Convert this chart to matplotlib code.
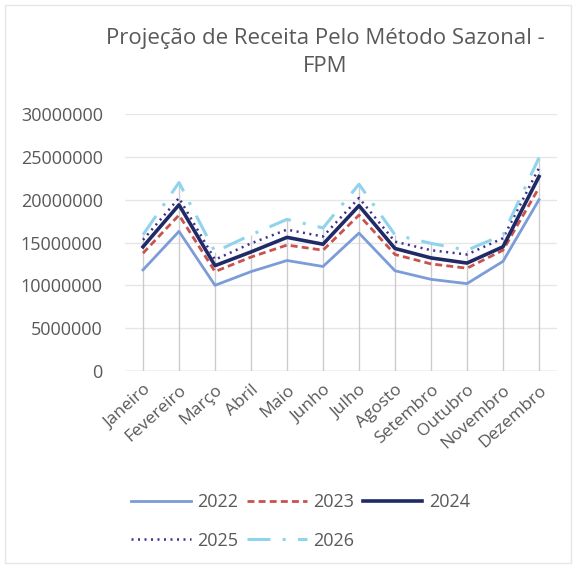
import matplotlib.pyplot as plt
from matplotlib.patches import Rectangle
import numpy as np

meses = ['Janeiro', 'Fevereiro', 'Março', 'Abril', 'Maio', 'Junho', 'Julho',
         'Agosto', 'Setembro', 'Outubro', 'Novembro', 'Dezembro']

# valores em milhoes
v2022 = [11.8, 16.3, 10.0, 11.6, 12.9, 12.2, 16.1, 11.7, 10.7, 10.2, 12.8, 20.0]
v2023 = [13.75, 18.2, 11.6, 13.3, 14.7, 14.1, 18.2, 13.6, 12.5, 12.0, 14.1, 21.4]
v2024 = [14.5, 19.4, 12.3, 13.9, 15.6, 14.8, 19.3, 14.3, 13.2, 12.6, 14.5, 22.7]
v2025 = [15.3, 20.2, 13.0, 14.9, 16.5, 15.7, 20.2, 15.1, 14.1, 13.6, 15.5, 23.7]
v2026 = [15.9, 22.0, 13.9, 15.9, 17.7, 16.7, 21.8, 15.9, 14.9, 14.1, 15.9, 24.9]

anos = ['2022', '2023', '2024', '2025', '2026']
series = [v2022, v2023, v2024, v2025, v2026]
yticks = [0, 5000000, 10000000, 15000000, 20000000, 25000000, 30000000]

plt.rcParams['font.family'] = ['Open Sans', 'DejaVu Sans']
cinza = '#595959'

W, H = 576, 567
fig = plt.figure(figsize=(W / 100, H / 100), dpi=100)
ax = fig.add_axes([125 / W, 1 - 371 / H, 432 / W, 257 / H])

# moldura clara do grafico
fig.patches.append(Rectangle((5 / W, 4 / H), 1 - 10 / W, 1 - 9 / H,
                             transform=fig.transFigure, fill=False,
                             ec='#e6e6e6', lw=1))

x = np.arange(len(meses))
dados = [np.array(s) * 1e6 for s in series]

# linhas de queda (do maior valor ate o eixo)
topo = np.max(dados, axis=0)
ax.vlines(x, 0, topo, color='#cccccc', lw=1, zorder=1)

estilos = [
    dict(color='#7b9cd8', lw=2.0, ls='-'),
    dict(color='#c8524e', lw=2.0, ls=(0, (2.5, 1.5))),
    dict(color='#1f2a66', lw=2.6, ls='-'),
    dict(color='#3d2f8f', lw=1.8, ls=(0, (0.8, 1.8))),
    dict(color='#8fd3ec', lw=2.2, ls=(0, (7.5, 4, 1, 4))),
]
linhas = []
for ano, d, st in zip(anos, dados, estilos):
    l, = ax.plot(x, d, label=ano, zorder=3, **st)
    linhas.append(l)

ax.set_ylim(0, 30000000)
ax.set_xlim(-0.5, 11.5)
ax.set_yticks(yticks)
ax.set_yticklabels([str(v) for v in yticks])
ax.set_xticks(x)
ax.set_xticklabels(meses, rotation=42, ha='right', rotation_mode='anchor')
ax.tick_params(axis='y', length=0, labelsize=13, colors=cinza, pad=16)
ax.tick_params(axis='x', length=0, labelsize=12.5, colors=cinza, pad=8)
ax.grid(axis='y', color='#e6e6e6', lw=1)
ax.set_axisbelow(True)
for s in ax.spines.values():
    s.set_visible(False)
ax.axhline(0, color='#d4d4d4', lw=1, zorder=2)

fig.text(0.565, 1 - 28 / H, 'Projeção de Receita Pelo Método Sazonal -\nFPM',
         ha='center', va='top', fontsize=16, color=cinza, linespacing=1.45)

# ordem para preencher por linhas: 2022 2023 2024 / 2025 2026
ordem = [0, 3, 1, 4, 2]
fig.legend([linhas[i] for i in ordem], [anos[i] for i in ordem],
           loc='upper left', bbox_to_anchor=(131 / W, 1 - 493 / H), ncol=3,
           frameon=False, fontsize=13, handlelength=3.3, columnspacing=0.5,
           handletextpad=0.35, labelspacing=1.15, labelcolor=cinza,
           borderpad=0, borderaxespad=0)

fig.savefig('out.png', dpi=100, facecolor='white')
